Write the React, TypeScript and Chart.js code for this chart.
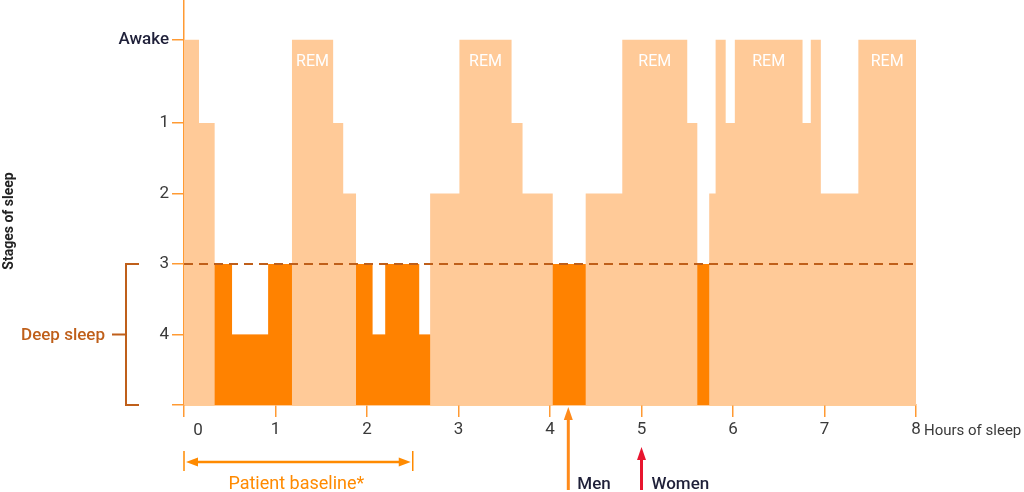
import React, { useEffect, useRef } from 'react';
import { Chart, registerables } from 'chart.js';

Chart.register(...registerables);

// ---- data ----
const segmentStartHours = [0, 0.164, 0.335, 0.525, 0.92, 1.18, 1.63, 1.74, 1.88, 2.06, 2.2, 2.57, 2.69, 3.01, 3.58, 3.7, 4.03, 4.39, 4.79, 5.5, 5.61, 5.74, 5.81, 5.92, 6.02, 6.76, 6.85, 6.96, 7.37];
const segmentStages = ['Awake', '1', '3', '4', '3', 'Awake', '1', '2', '3', '4', '3', '4', '2', 'Awake', '1', '2', '3', '2', 'Awake', '1', '3', '2', 'Awake', '1', 'Awake', '1', 'Awake', '2', 'Awake'];
const sleepEndHour = 8;
const hourTicks = [0, 1, 2, 3, 4, 5, 6, 7, 8];
const stageTickLabels = ['4', '3', '2', '1', 'Awake'];
const stageTickValues = [1, 2, 3, 4, 5.18];
const deepStages = ['3', '4'];
const deepThresholdStage = '3';
const baselineRangeHours = [0, 2.5];
const menMarkerHour = 4.2;
const womenMarkerHour = 5.0;

// ---- styles ----
const LIGHT = '#FFCA98';
const DARK = '#FF8200';
const AXIS = '#FF9A33';
const BROWN = '#BF5F1A';
const TEXT = '#3a3a3a';
const NAVY = '#1F2039';
const FONT = 'Roboto';
const Y_MAX = 5.745;

const levelOf = (s: string) => stageTickValues[stageTickLabels.indexOf(s)];

function buildPoints(deepOnly: boolean) {
  const pts = segmentStartHours.map((h, i) => {
    const s = segmentStages[i];
    const y = deepOnly ? (deepStages.includes(s) ? levelOf(s) : 0) : levelOf(s);
    return { x: h, y };
  });
  const last = pts[pts.length - 1];
  pts.push({ x: sleepEndHour, y: last.y });
  return pts;
}

const annotations = {
  id: 'annotations',
  afterDraw(chart: any) {
    const ctx = chart.ctx as CanvasRenderingContext2D;
    const xs = chart.scales.x;
    const ys = chart.scales.y;
    ctx.save();

    // REM labels on long awake segments (after sleep onset)
    ctx.fillStyle = '#ffffff';
    ctx.font = `16px ${FONT}`;
    ctx.textAlign = 'center';
    ctx.textBaseline = 'middle';
    segmentStartHours.forEach((h, i) => {
      const end = i + 1 < segmentStartHours.length ? segmentStartHours[i + 1] : sleepEndHour;
      if (i > 0 && segmentStages[i] === 'Awake' && end - h > 0.3) {
        ctx.fillText('REM', xs.getPixelForValue((h + end) / 2), ys.getPixelForValue(levelOf('Awake')) + 22);
      }
    });

    // "0" label (offset)
    ctx.fillStyle = TEXT;
    ctx.font = `17px ${FONT}`;
    ctx.fillText('0', xs.getPixelForValue(0) + 14, 431);

    // Hours of sleep
    ctx.textAlign = 'left';
    ctx.font = `15px ${FONT}`;
    ctx.fillText('Hours of sleep', xs.getPixelForValue(sleepEndHour) + 8, 431);

    // Stages of sleep
    ctx.save();
    ctx.translate(9, 221);
    ctx.rotate(-Math.PI / 2);
    ctx.textAlign = 'center';
    ctx.font = `bold 14px ${FONT}`;
    ctx.fillStyle = '#222222';
    ctx.fillText('Stages of sleep', 0, 0);
    ctx.restore();

    // Deep sleep bracket
    const yTop = ys.getPixelForValue(levelOf(deepThresholdStage));
    const yBot = ys.getPixelForValue(0);
    const yMid = ys.getPixelForValue(levelOf('4'));
    ctx.strokeStyle = BROWN;
    ctx.lineWidth = 2;
    ctx.beginPath();
    ctx.moveTo(139, yTop);
    ctx.lineTo(126, yTop);
    ctx.lineTo(126, yBot);
    ctx.lineTo(139, yBot);
    ctx.moveTo(112, yMid);
    ctx.lineTo(126, yMid);
    ctx.stroke();
    ctx.fillStyle = BROWN;
    ctx.font = `500 17px ${FONT}`;
    ctx.textAlign = 'right';
    ctx.fillText('Deep sleep', 105, yMid + 1);

    // Patient baseline arrow
    const bx0 = xs.getPixelForValue(baselineRangeHours[0]);
    const bx1 = xs.getPixelForValue(baselineRangeHours[1]);
    const ORANGE = '#FF8A00';
    ctx.strokeStyle = ORANGE;
    ctx.fillStyle = ORANGE;
    ctx.lineWidth = 1.5;
    ctx.beginPath();
    ctx.moveTo(bx0, 451); ctx.lineTo(bx0, 471);
    ctx.moveTo(bx1, 451); ctx.lineTo(bx1, 471);
    ctx.stroke();
    ctx.lineWidth = 2.5;
    ctx.beginPath();
    ctx.moveTo(bx0 + 8, 462); ctx.lineTo(bx1 - 8, 462);
    ctx.stroke();
    ctx.beginPath();
    ctx.moveTo(bx0 + 2, 462); ctx.lineTo(bx0 + 14, 457.5); ctx.lineTo(bx0 + 14, 466.5); ctx.closePath();
    ctx.moveTo(bx1 - 2, 462); ctx.lineTo(bx1 - 14, 457.5); ctx.lineTo(bx1 - 14, 466.5); ctx.closePath();
    ctx.fill();
    ctx.font = `18px ${FONT}`;
    ctx.textAlign = 'center';
    ctx.fillText('Patient baseline*', (bx0 + bx1) / 2 - 2, 484);

    // Men / Women arrows
    const drawUpArrow = (x: number, tip: number, color: string) => {
      ctx.strokeStyle = color;
      ctx.fillStyle = color;
      ctx.lineWidth = 3;
      ctx.beginPath();
      ctx.moveTo(x, 490); ctx.lineTo(x, tip + 10);
      ctx.stroke();
      ctx.beginPath();
      ctx.moveTo(x, tip); ctx.lineTo(x - 4.5, tip + 13); ctx.lineTo(x + 4.5, tip + 13); ctx.closePath();
      ctx.fill();
    };
    const mx = xs.getPixelForValue(menMarkerHour);
    const wx = xs.getPixelForValue(womenMarkerHour);
    drawUpArrow(mx, 407, '#FF8A1A');
    drawUpArrow(wx, 447, '#E8152F');
    ctx.fillStyle = NAVY;
    ctx.font = `500 17px ${FONT}`;
    ctx.textAlign = 'left';
    ctx.fillText('Men', mx + 9, 485);
    ctx.fillText('Women', wx + 10, 485);

    ctx.restore();
  },
};

export default function App() {
  const ref = useRef<HTMLCanvasElement | null>(null);
  useEffect(() => {
    document.body.style.margin = '0';
    if (!ref.current) return;
    const thr = levelOf(deepThresholdStage);
    const awake = levelOf('Awake');
    const chart = new Chart(ref.current, {
      type: 'line',
      data: {
        datasets: [
          {
            data: [{ x: 0, y: thr }, { x: sleepEndHour, y: thr }],
            fill: false,
            borderColor: BROWN,
            borderWidth: 2,
            borderDash: [9, 6],
            pointRadius: 0,
          },
          {
            data: buildPoints(true),
            stepped: 'before',
            fill: 'origin',
            backgroundColor: DARK,
            borderColor: 'rgba(0,0,0,0)',
            borderWidth: 0,
            pointRadius: 0,
          },
          {
            data: buildPoints(false),
            stepped: 'before',
            fill: 'origin',
            backgroundColor: LIGHT,
            borderColor: 'rgba(0,0,0,0)',
            borderWidth: 0,
            pointRadius: 0,
          },
        ],
      } as any,
      options: {
        animation: false,
        responsive: true,
        maintainAspectRatio: false,
        layout: { padding: { left: 0, right: 108, top: 0, bottom: 0 } },
        plugins: { legend: { display: false }, tooltip: { enabled: false } },
        scales: {
          x: {
            type: 'linear',
            min: 0,
            max: sleepEndHour,
            afterBuildTicks: (s: any) => { s.ticks = hourTicks.map((v) => ({ value: v })); },
            afterFit: (s: any) => { s.height = 87; s.paddingLeft = 0; s.paddingRight = 0; },
            border: { color: AXIS, width: 1.5 },
            grid: { drawOnChartArea: false, color: AXIS, lineWidth: 1.5, tickLength: 12 },
            ticks: {
              callback: (v: any) => (v === 0 ? '' : String(v)),
              font: { family: FONT, size: 17 },
              color: TEXT,
              padding: 3,
              maxRotation: 0,
            },
          },
          y: {
            type: 'linear',
            min: 0,
            max: Y_MAX,
            afterBuildTicks: (s: any) => { s.ticks = [0, ...stageTickValues].map((v) => ({ value: v })); },
            afterFit: (s: any) => { s.width = 184; s.paddingTop = 0; s.paddingBottom = 0; },
            border: { color: AXIS, width: 1.5 },
            grid: { drawOnChartArea: false, color: AXIS, lineWidth: 1.5, tickLength: 12 },
            ticks: {
              callback: (v: any) => {
                const i = stageTickValues.indexOf(v);
                return i >= 0 ? stageTickLabels[i] : '';
              },
              font: (c: any) => ({ family: FONT, size: 17, weight: c.tick && c.tick.value === awake ? '500' : '400' }),
              color: (c: any) => (c.tick && c.tick.value === awake ? NAVY : TEXT),
              padding: 3,
            },
          },
        },
      } as any,
      plugins: [annotations],
    });
    return () => chart.destroy();
  }, []);
  return (
    <div style={{ position: 'relative', width: 1024, height: 492 }}>
      <canvas ref={ref} />
    </div>
  );
}
